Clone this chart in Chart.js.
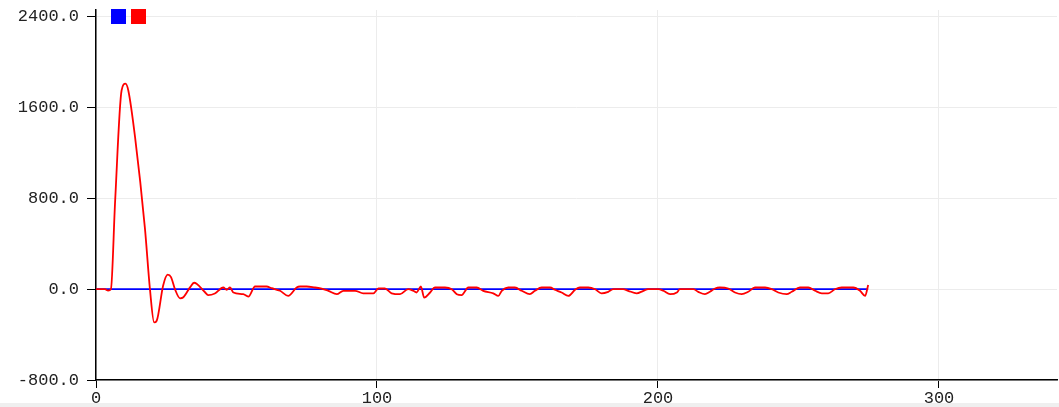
<!DOCTYPE html>
<html>
<head>
<meta charset="utf-8">
<script src="https://cdn.jsdelivr.net/npm/chart.js@4/dist/chart.umd.min.js"></script>
<style>
  html, body { margin: 0; padding: 0; background: #efefef; }
  #wrap { width: 1059px; height: 403px; background: #ffffff; }
</style>
</head>
<body>
<div id="wrap"><canvas id="c" width="1059" height="403"></canvas></div>
<script>
// Sample positions (x) of the red trace vertices
const sampleX = [0,3.2,4.3,5.3,6.8,9.1,10.5,11.5,13.9,17.4,
  19.2,20.7,21.6,23.9,25.5,26.7,28.1,29.9,31.1,33.5,
  34.9,35.8,38.8,39.9,42.3,45.3,46.5,47.7,48.9,52.4,
  54.2,56.6,60.7,62.5,65.5,68.4,71.4,72.6,75,77.9,
  80.3,82.7,85.7,88,92.2,95.1,98.7,100.5,102.8,105.2,
  108.2,111.1,112.9,114.1,115.6,116.8,118.9,120.6,124.2,126.6,
  128.4,130.1,132.5,135.5,137.8,141.4,143.2,144.4,146.7,149.1,
  151.5,154.4,156.2,158.6,161.6,163.3,165.7,168.1,170.5,172.2,
  175.2,177.6,179.9,182.3,184.1,187.6,189.4,192.4,194.8,196.5,
  200.1,201.9,204.3,206.7,207.8,212.6,214.3,216.7,218.5,220.3,
  222,225,227.4,229.8,232.1,234.5,238.1,240.5,242.8,245.8,
  247.6,250.5,253.5,255.9,258.3,260.6,263,265.4,269.5,271.9,
  273.7,274.8];
// Red series values
const redValues = [0,0,-12,0,773,1751,1811,1751,1340,540,
  0,-293,-278,33,128,107,0,-80,-71,18,
  57,48,-27,-52,-38,15,-5,15,-29,-44,
  -65,24,24,9,-14,-59,15,24,24,15,
  6,-14,-44,-14,-14,-36,-36,6,6,-36,
  -44,0,-14,-29,24,-74,-29,15,15,0,
  -44,-52,15,15,-14,-36,-59,-14,15,15,
  -14,-44,-14,15,15,-5,-29,-59,-5,15,
  15,0,-36,-23,0,0,-14,-36,-14,0,
  0,-14,-44,-29,0,0,-23,-44,-23,6,
  15,6,-29,-44,-23,15,15,0,-29,-44,
  -23,15,15,-14,-36,-36,0,15,15,-14,
  -59,36];
// Blue series (flat)
const blueX = [0, 274.8];
const blueValues = [0, 0];
// Axis ticks
const yTicks = [-800, 0, 800, 1600, 2400];
const xTicks = [0, 100, 200, 300];

const tickFont = { family: "'Liberation Mono', 'Courier New', monospace", size: 17 };

const legendBoxes = {
  id: 'legendBoxes',
  afterDraw(chart) {
    const ctx = chart.ctx;
    const ca = chart.chartArea;
    let x = ca.left + 15;
    chart.data.datasets.forEach(ds => {
      ctx.save();
      ctx.fillStyle = ds.borderColor;
      ctx.fillRect(x, 9, 15, 15);
      ctx.restore();
      x += 20;
    });
  }
};

new Chart(document.getElementById('c'), {
  type: 'line',
  data: {
    datasets: [
      {
        label: 'blue',
        data: blueX.map((x, i) => ({ x: x, y: blueValues[i] })),
        borderColor: '#0000ff',
        borderWidth: 1.8,
        pointRadius: 0,
        order: 1
      },
      {
        label: 'red',
        data: sampleX.map((x, i) => ({ x: x, y: redValues[i] })),
        borderColor: '#ff0000',
        borderWidth: 1.8,
        pointRadius: 0,
        cubicInterpolationMode: 'monotone',
        order: 0
      }
    ]
  },
  options: {
    responsive: false,
    animation: false,
    layout: { padding: { top: 10, right: 2, left: 0, bottom: 0 } },
    plugins: { legend: { display: false }, tooltip: { enabled: false } },
    scales: {
      x: {
        type: 'linear',
        min: 0,
        max: 342,
        afterBuildTicks: s => { s.ticks = xTicks.map(v => ({ value: v })); },
        afterFit: s => { s.height = 23; s.paddingLeft = 0; s.paddingRight = 0; },
        ticks: { font: tickFont, color: '#222', padding: 0, maxRotation: 0, callback: v => String(v) },
        grid: { color: '#ececec', tickColor: '#000', tickLength: 8, lineWidth: 1 },
        border: { color: '#000', width: 1.5 }
      },
      y: {
        min: -800,
        max: 2460,
        afterBuildTicks: s => { s.ticks = yTicks.map(v => ({ value: v })); },
        afterFit: s => { s.width = 96; s.paddingTop = 0; s.paddingBottom = 0; },
        ticks: { font: tickFont, color: '#222', padding: 8, callback: v => Number(v).toFixed(1) },
        grid: { color: '#ececec', tickColor: '#000', tickLength: 9, lineWidth: 1 },
        border: { color: '#000', width: 1.5 }
      }
    }
  },
  plugins: [legendBoxes]
});
</script>
</body>
</html>
